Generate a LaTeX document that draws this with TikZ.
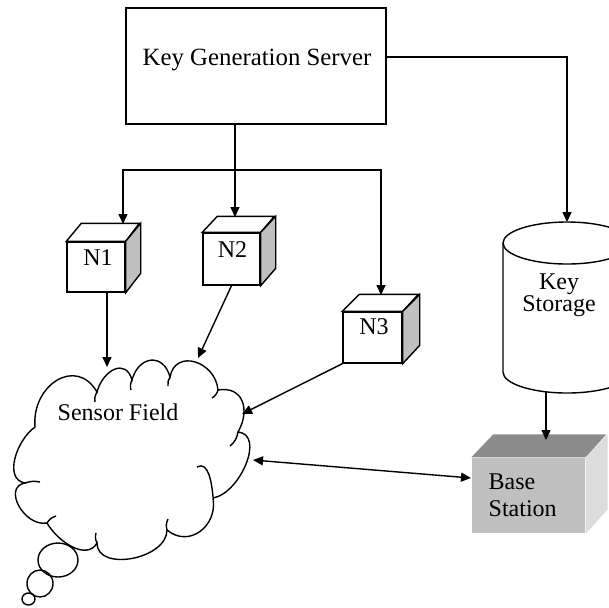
\documentclass[tikz,border=0pt]{standalone}
\usepackage{fontspec}
\setmainfont{Liberation Serif}
\usetikzlibrary{arrows.meta,calc}
\definecolor{sidegray}{RGB}{192,192,192}
\definecolor{bstopgray}{RGB}{140,140,140}
\definecolor{bsfrontgray}{RGB}{192,192,192}
\definecolor{bssidegray}{RGB}{220,220,220}
\begin{document}
\begin{tikzpicture}[x=0.5pt,y=0.5pt,line width=0.7pt,
  lbl/.style={font=\fontsize{12}{13}\selectfont, inner sep=0pt},
  arr/.style={-{Triangle[length=5pt,width=4.5pt]}},
  darr/.style={{Triangle[length=5pt,width=4.5pt]}-{Triangle[length=5pt,width=4.5pt]}},
  face/.style={draw, fill=white, inner sep=0pt}]
\clip (0,0) rectangle (609,-607);
\fill[white] (0,0) rectangle (609,-607);

% key generation server
\node[draw, minimum width=130pt, minimum height=58pt, inner sep=0pt] (kgs) at (256,-66) {};
\node[lbl, font=\fontsize{12.4}{14}\selectfont] (kgstext) at (257,-59.5) {Key Generation Server};

% sensor nodes drawn as small cubes
\node[face, minimum width=29pt, minimum height=25pt] (n1) at (96,-267) {};
\draw[fill=white] (n1.north west) -- ++(15,18) -- ++(58,0) -- (n1.north east) -- cycle;
\draw[fill=sidegray] (n1.north east) -- ++(15,18) -- ++(0,-50) -- (n1.south east) -- cycle;
\node[lbl] (n1t) at (98,-257.5) {N1};

\node[face, minimum width=28.5pt, minimum height=26pt] (n2) at (231.5,-259) {};
\draw[fill=white] (n2.north west) -- ++(15,16) -- ++(57,0) -- (n2.north east) -- cycle;
\draw[fill=sidegray] (n2.north east) -- ++(15,16) -- ++(0,-52) -- (n2.south east) -- cycle;
\node[lbl] (n2t) at (232.5,-250) {N2};

\node[face, minimum width=29.5pt, minimum height=25.5pt] (n3) at (372.5,-337.5) {};
\draw[fill=white] (n3.north west) -- ++(17,17) -- ++(59,0) -- (n3.north east) -- cycle;
\draw[fill=sidegray] (n3.north east) -- ++(17,17) -- ++(0,-51) -- (n3.south east) -- cycle;
\node[lbl] (n3t) at (374,-327) {N3};

% key storage cylinder
\draw[fill=white] (503,-243) -- (503,-372)
  arc[start angle=180, end angle=360, x radius=64, y radius=21] -- (631,-243);
\draw[fill=white] (567,-243) ellipse[x radius=64, y radius=21];
\node[lbl, align=center, font=\fontsize{12}{11}\selectfont] (ks) at (559,-295.5) {Key\\Storage};

% base station block
\node[fill=bsfrontgray, minimum width=56.5pt, minimum height=37.5pt, inner sep=0pt] (bs) at (528.5,-495.5) {};
\fill[bstopgray] (bs.north west) -- ++(22,23) -- ++(113,0) -- (bs.north east) -- cycle;
\fill[bssidegray] (bs.north east) -- ++(22,23) -- ++(0,-75) -- (bs.south east) -- cycle;
\node[lbl, align=left, anchor=west, font=\fontsize{12}{13.5}\selectfont] (bst) at (488,-495.5) {Base\\Station};

% sensor field cloud
\draw[fill=white] (35,-427)
  to[out=95,in=120,looseness=1.5] (97,-392)
  to[out=75,in=105,looseness=1.6] (132,-380)
  to[out=75,in=105,looseness=1.7] (170,-377)
  to[out=80,in=95,looseness=1.5] (218,-390)
  to[out=10,in=60,looseness=1.4] (238,-432)
  to[out=-5,in=10] (213,-498)
  to[out=-80,in=-40,looseness=1.3] (167,-530)
  to[out=-90,in=-90,looseness=1.05] (97,-543)
  to[out=-120,in=-60] (47,-523)
  to[out=190,in=190,looseness=1.3] (25,-483)
  to[out=170,in=215] (35,-427) -- cycle;
\draw (97,-392) to[bend right=20] (95,-402);
\draw (132,-380) to[bend right=20] (131,-390);
\draw (170,-377) to[bend right=20] (168,-386);
\draw (218,-390) to[bend left=20] (212,-398);
\draw (238,-432) to[bend left=20] (230,-446);
\draw (197,-467) to[out=30,in=95] (213,-497);
\draw (167,-530) to[bend left=20] (168,-519);
\draw (97,-543) to[bend left=20] (96,-533);
\draw (47,-523) to[bend left=20] (56,-516);
\draw (25,-483) to[bend left=15] (40,-482);
\node[lbl] (sf) at (118,-412) {Sensor Field};
\draw (58,-560) ellipse[x radius=20, y radius=17];
\draw (40,-583.5) ellipse[x radius=13, y radius=13.5];
\draw (28.5,-599) ellipse[x radius=6.5, y radius=6];

% connector end points
\coordinate (kstop) at (567,-222);
\coordinate (ksbot) at (546,-392);
\coordinate (n1top) at (123,-224);
\coordinate (n2top) at (235,-217);
\coordinate (n3top) at (381,-295);
\coordinate (split) at (235,-170);
\coordinate (cf1) at (107,-367);
\coordinate (cf2) at (198,-358);
\coordinate (cf3) at (242,-414);
\coordinate (cfbs) at (253,-460);
\coordinate (bsin) at (471,-478);
\coordinate (bstop) at (546,-440);

% connectors
\draw[arr] (kgs.east |- 0,-57) -| (kstop);
\draw[arr] (kgs.south -| n2top) -- (n2top);
\draw[arr] (split) -| (n1top);
\draw[arr] (split) -| (n3top);
\draw[arr] (n1.south -| cf1) -- (cf1);
\draw[arr] (n2.south) -- (cf2);
\draw[arr] (n3.south west) -- (cf3);
\draw[darr] (cfbs) -- (bsin);
\draw[arr] (ksbot) -- (bstop);
\end{tikzpicture}
\end{document}
